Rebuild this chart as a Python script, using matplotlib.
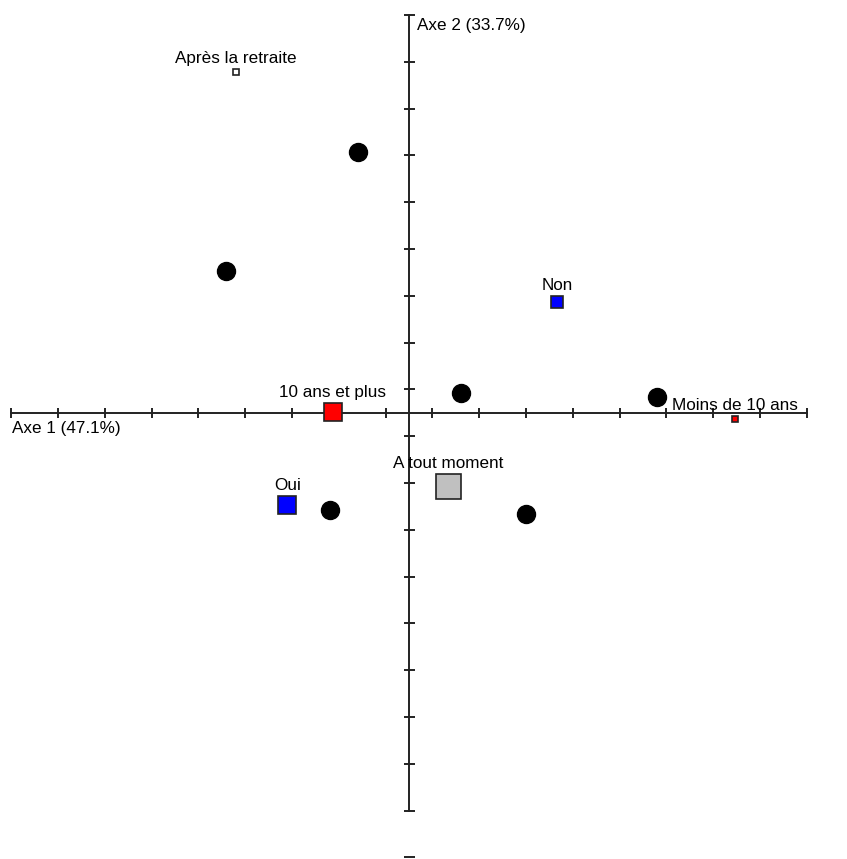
import numpy as np
import matplotlib
matplotlib.use("Agg")
import matplotlib.pyplot as plt

plt.rcParams['font.family'] = ['Liberation Sans', 'DejaVu Sans']

# individus (black dots)
ind_x = [-0.110, -0.390, 0.111, 0.529, -0.169, 0.250]
ind_y = [0.557, 0.303, 0.043, 0.034, -0.208, -0.217]

# modalites (squares)
mod_labels = ['Après la retraite', 'Non', '10 ans et plus', 'Moins de 10 ans', 'A tout moment', 'Oui']
mod_x = [-0.370, 0.316, -0.163, 0.697, 0.083, -0.260]
mod_y = [0.727, 0.236, 0.002, -0.014, -0.157, -0.197]
mod_colors = ['white', '#0000ff', '#ff0000', '#ff0000', '#c0c0c0', '#0000ff']
mod_size_px = [6, 12, 18, 6, 25, 18]

axis1_label = 'Axe 1 (47.1%)'
axis2_label = 'Axe 2 (33.7%)'

W, H = 847, 859
scale = 468.0          # px per unit
ox, oy = 409.0, 412.7  # origin in px (from top-left)

fig = plt.figure(figsize=(W / 100, H / 100), dpi=100)
ax = fig.add_axes([0, 0, 1, 1])
ax.set_xlim(-ox / scale, (W - ox) / scale)
ax.set_ylim((oy - H) / scale, oy / scale)
ax.axis('off')

px = 0.72  # points per pixel at dpi 100
fs = 12.3

# axes lines
ax.plot([-0.85, 0.85], [0, 0], color='#222222', lw=1.4, zorder=1)
ax.plot([0, 0], [-0.85, 0.85], color='#222222', lw=1.4, zorder=1)
xt = np.arange(-0.85, 0.851, 0.1)
yt = np.arange(-0.95, 0.851, 0.1)
ax.plot(xt, np.zeros_like(xt), ls='none', marker='|', ms=10 * px, mew=1.4, color='#222222', zorder=1)
ax.plot(np.zeros_like(yt), yt, ls='none', marker='_', ms=11 * px, mew=1.4, color='#222222', zorder=1)

ax.text(-0.85 + 1 / scale, -8 / scale, axis1_label, fontsize=fs, ha='left', va='top')
ax.text(8 / scale, 0.85 - 3 / scale, axis2_label, fontsize=fs, ha='left', va='top')

# individuals
ax.plot(ind_x, ind_y, ls='none', marker='o', ms=18 * px, color='black', zorder=3)

# modalities
for lab, x, y, c, s in zip(mod_labels, mod_x, mod_y, mod_colors, mod_size_px):
    ax.plot([x], [y], ls='none', marker='s', ms=s * px, mfc=c, mec='#222222', mew=1.2, zorder=4)
    ax.annotate(lab, (x, y), xytext=(0, (s / 2 + 6) * px), textcoords='offset points',
                ha='center', va='baseline', fontsize=fs, zorder=5)

fig.savefig('out.png', dpi=100)
